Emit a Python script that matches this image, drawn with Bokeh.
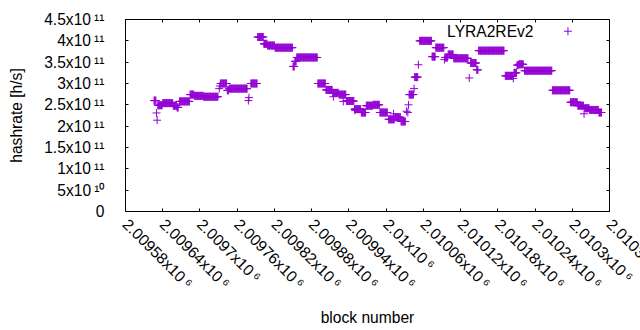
import math
import numpy as np
from bokeh.plotting import figure
from bokeh.models import Range1d, FixedTicker, LinearAxis, Label, CustomJSTickFormatter
from bokeh.embed import file_html
from bokeh.resources import INLINE

# ---------------- data ----------------
# runs of consecutive blocks that share one hashrate value (unit: 1e11 h/s)
run_start = [2009626, 2009632, 2009640, 2009657, 2009663, 2009667, 2009684, 2009691,
             2009706, 2009733, 2009744, 2009747, 2009782, 2009793, 2009803, 2009809,
             2009821, 2009850, 2009853, 2009856, 2009890, 2009903, 2009914, 2009924,
             2009936, 2009949, 2009960, 2009968, 2009979, 2009990, 2010004, 2010014,
             2010024, 2010037, 2010046, 2010054, 2010074, 2010080, 2010095, 2010100,
             2010109, 2010136, 2010146, 2010149, 2010192, 2010206, 2010211, 2010214,
             2010223, 2010268, 2010297, 2010309, 2010320, 2010328, 2010343]
run_end = [2009629, 2009639, 2009656, 2009662, 2009665, 2009683, 2009690, 2009705,
           2009729, 2009743, 2009746, 2009776, 2009792, 2009802, 2009808, 2009820,
           2009849, 2009852, 2009855, 2009889, 2009902, 2009913, 2009923, 2009935,
           2009948, 2009959, 2009967, 2009978, 2009989, 2010002, 2010013, 2010023,
           2010031, 2010044, 2010051, 2010073, 2010079, 2010093, 2010099, 2010108,
           2010132, 2010145, 2010148, 2010190, 2010204, 2010210, 2010213, 2010221,
           2010267, 2010296, 2010308, 2010318, 2010327, 2010342, 2010347]
run_value = [2.60, 2.49, 2.54, 2.48, 2.44, 2.58, 2.74, 2.71,
             2.69, 3.00, 2.84, 2.88, 3.00, 4.09, 3.93, 3.89,
             3.84, 3.40, 3.52, 3.61, 3.00, 2.85, 2.78, 2.74,
             2.59, 2.40, 2.32, 2.48, 2.50, 2.32, 2.16, 2.21,
             2.11, 2.74, 3.15, 4.00, 3.63, 3.84, 3.61, 3.68,
             3.59, 3.48, 3.32, 3.77, 3.18, 3.25, 3.43, 3.45,
             3.30, 2.84, 2.56, 2.48, 2.42, 2.38, 2.32]
# isolated blocks
single_block = [2009630, 2009631, 2009731, 2009732, 2009778, 2009779, 2009915, 2009931,
                2009950, 2010012, 2010033, 2010035, 2010036, 2010045, 2010052, 2010094,
                2010134, 2010205, 2010319]
single_value = [2.31, 2.14, 2.88, 2.94, 2.60, 2.67, 2.69, 2.58,
                2.37, 2.29, 2.35, 2.32, 2.50, 2.88, 3.44, 3.56,
                3.13, 3.12, 2.29]
value_unit = 1e11

series_name = "LYRA2REv2"
x_title = "block number"
y_title = "hashrate [h/s]"

SP = "\u2009"  # thin space before the exponent
x_ticks = [2009580, 2009640, 2009700, 2009760, 2009820, 2009880, 2009940,
           2010000, 2010060, 2010120, 2010180, 2010240, 2010300, 2010360]
x_mantissas = ["2.00958", "2.00964", "2.0097", "2.00976", "2.00982", "2.00988", "2.00994",
               "2.01", "2.01006", "2.01012", "2.01018", "2.01024", "2.0103", "2.01036"]
x_tick_labels = [m + "x10" + SP + "\u2076" for m in x_mantissas]
y_ticks = [0, 5e10, 1e11, 1.5e11, 2e11, 2.5e11, 3e11, 3.5e11, 4e11, 4.5e11]
y_tick_labels = ["0", "5x10" + SP + "\u00b9\u2070", "1x10" + SP + "\u00b9\u00b9",
                 "1.5x10" + SP + "\u00b9\u00b9", "2x10" + SP + "\u00b9\u00b9",
                 "2.5x10" + SP + "\u00b9\u00b9", "3x10" + SP + "\u00b9\u00b9",
                 "3.5x10" + SP + "\u00b9\u00b9", "4x10" + SP + "\u00b9\u00b9",
                 "4.5x10" + SP + "\u00b9\u00b9"]

X0, X1 = 2009580, 2010360
Y0, Y1 = 0, 4.5e11

# ---------------- expand runs ----------------
blocks = np.concatenate([np.arange(s, e + 1) for s, e in zip(run_start, run_end)]
                        + [np.array(single_block)])
rates = np.concatenate([np.full(e - s + 1, v * value_unit) for s, e, v in zip(run_start, run_end, run_value)]
                       + [np.array(single_value) * value_unit])

FONT = "Liberation Sans"
FS = "15.6px"
COLOR = "#9400D3"

W, H = 700, 330
p = figure(width=W, height=H, output_backend="svg", toolbar_location=None,
           x_range=Range1d(X0, X1), y_range=Range1d(Y0, Y1),
           x_axis_type=None, y_axis_type=None,
           min_border_left=125, min_border_right=W - 609, min_border_top=19, min_border_bottom=H - 211)
p.outline_line_color = None
p.background_fill_color = "white"
p.border_fill_color = "white"


def make_axis(ticks, labels=None):
    ax = LinearAxis(ticker=FixedTicker(ticks=ticks),
                    major_tick_in=3, major_tick_out=0,
                    minor_tick_line_color=None,
                    axis_line_color="black", axis_line_width=1,
                    major_tick_line_color="black", major_tick_line_width=1,
                    major_label_text_font=FONT, major_label_text_font_size=FS,
                    major_label_text_color="black",
                    axis_label_text_font=FONT, axis_label_text_font_size=FS,
                    axis_label_text_font_style="normal", axis_label_text_color="black")
    if labels is None:
        ax.formatter = CustomJSTickFormatter(code="return ''")
        ax.major_label_text_font_size = "1px"
        ax.major_label_standoff = 0
    else:
        ax.major_label_overrides = {float(t): s for t, s in zip(ticks, labels)}
    return ax


xb = make_axis(x_ticks, x_tick_labels)
xb.major_label_orientation = -math.pi / 4
xb.major_label_standoff = 10
xb.axis_label = x_title
xb.axis_label_standoff = 8
p.add_layout(xb, "below")

yl = make_axis(y_ticks, y_tick_labels)
yl.major_label_standoff = 21
yl.axis_label = y_title
yl.axis_label_standoff = 16
p.add_layout(yl, "left")

p.add_layout(make_axis(x_ticks), "above")
p.add_layout(make_axis(y_ticks), "right")

p.scatter(blocks, rates, marker="cross", size=8, line_color=COLOR, line_width=1)

# legend (text on the left, key on the right, as in gnuplot)
p.add_layout(Label(x=X1, y=Y1, x_offset=-76, y_offset=-12.4, text=series_name,
                   text_font=FONT, text_font_size=FS, text_align="right",
                   text_baseline="middle", text_color="black"))
key_x = X1 - (609.3 - 567.7) / 484.6 * (X1 - X0)
key_y = Y1 - (31.0 - 19.3) / 191.4 * (Y1 - Y0)
p.scatter([key_x], [key_y], marker="cross", size=8, line_color=COLOR, line_width=1)

open("out.html", "w").write(file_html(p, INLINE))
